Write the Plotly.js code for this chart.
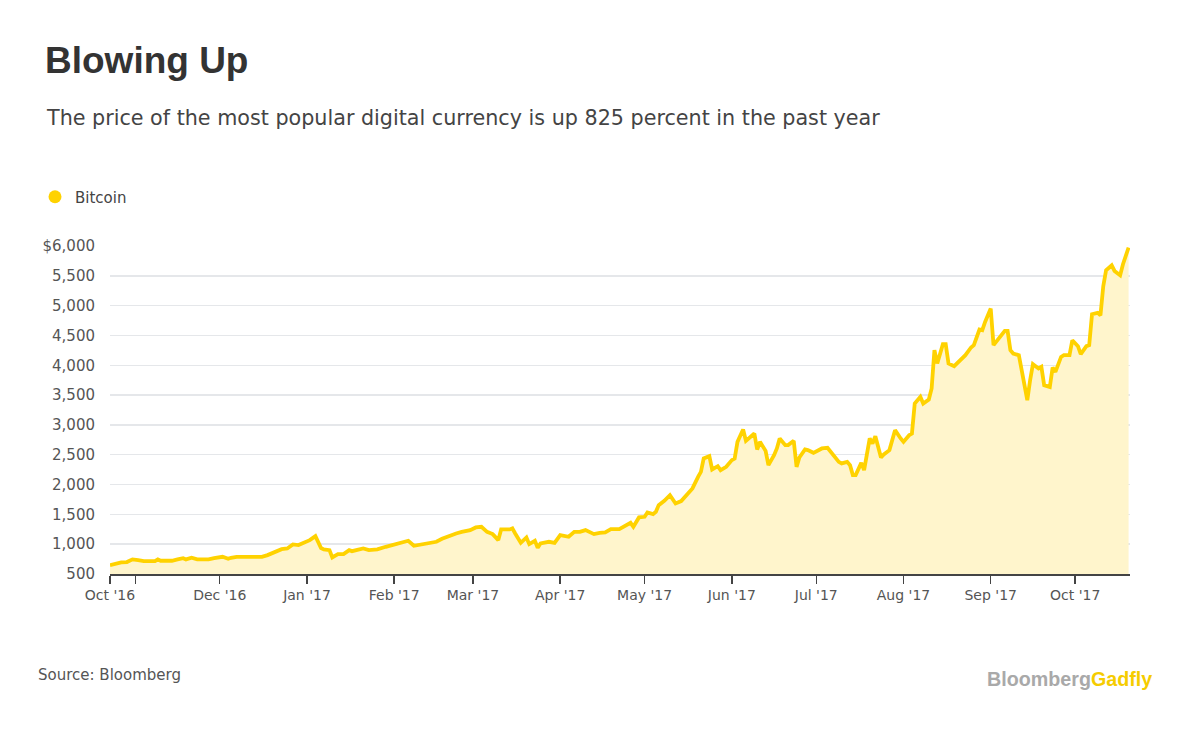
<!DOCTYPE html>
<html>
<head>
<meta charset="utf-8">
<script src="https://cdn.plot.ly/plotly-3.0.1.min.js"></script>
<style>
  html, body { margin: 0; padding: 0; background: #fff; }
  #chart { width: 1199px; height: 734px; }
</style>
</head>
<body>
<div id="chart"></div>
<script>
// ---- Data ----
const dates = [
  '2016-10-23','2016-10-25','2016-10-27','2016-10-29','2016-10-31','2016-11-02','2016-11-04','2016-11-08',
  '2016-11-09','2016-11-10','2016-11-14','2016-11-16','2016-11-18','2016-11-19','2016-11-21','2016-11-23',
  '2016-11-27','2016-11-29','2016-12-02','2016-12-04','2016-12-05','2016-12-07','2016-12-16','2016-12-18',
  '2016-12-21','2016-12-23','2016-12-25','2016-12-27','2016-12-29','2017-01-01','2017-01-02','2017-01-04',
  '2017-01-06','2017-01-07','2017-01-09','2017-01-10','2017-01-12','2017-01-14','2017-01-16','2017-01-17',
  '2017-01-21','2017-01-23','2017-01-26','2017-01-29','2017-02-02','2017-02-03','2017-02-06','2017-02-08',
  '2017-02-11','2017-02-13','2017-02-16','2017-02-18','2017-02-21','2017-02-23','2017-02-25','2017-02-28',
  '2017-03-02','2017-03-04','2017-03-06','2017-03-08','2017-03-10','2017-03-11','2017-03-14','2017-03-15',
  '2017-03-16','2017-03-18','2017-03-20','2017-03-21','2017-03-23','2017-03-24','2017-03-25','2017-03-28',
  '2017-03-30','2017-04-01','2017-04-04','2017-04-06','2017-04-08','2017-04-10','2017-04-13','2017-04-15',
  '2017-04-17','2017-04-19','2017-04-22','2017-04-24','2017-04-26','2017-04-27','2017-04-29','2017-05-01',
  '2017-05-02','2017-05-04','2017-05-05','2017-05-06','2017-05-08','2017-05-10','2017-05-12','2017-05-14',
  '2017-05-16','2017-05-18','2017-05-20','2017-05-21','2017-05-22','2017-05-24','2017-05-25','2017-05-27',
  '2017-05-28','2017-05-30','2017-06-01','2017-06-02','2017-06-03','2017-06-05','2017-06-06','2017-06-07',
  '2017-06-09','2017-06-10','2017-06-11','2017-06-13','2017-06-14','2017-06-16','2017-06-17','2017-06-18',
  '2017-06-20','2017-06-21','2017-06-23','2017-06-24','2017-06-25','2017-06-27','2017-06-28','2017-06-30',
  '2017-07-02','2017-07-03','2017-07-05','2017-07-07','2017-07-09','2017-07-10','2017-07-12','2017-07-13',
  '2017-07-14','2017-07-15','2017-07-17','2017-07-18','2017-07-20','2017-07-21','2017-07-22','2017-07-24',
  '2017-07-25','2017-07-27','2017-07-28','2017-07-29','2017-07-31','2017-08-01','2017-08-03','2017-08-04',
  '2017-08-05','2017-08-07','2017-08-08','2017-08-10','2017-08-11','2017-08-12','2017-08-13','2017-08-15',
  '2017-08-16','2017-08-17','2017-08-19','2017-08-21','2017-08-23','2017-08-25','2017-08-26','2017-08-28',
  '2017-08-29','2017-08-30','2017-09-01','2017-09-02','2017-09-04','2017-09-06','2017-09-07','2017-09-08',
  '2017-09-09','2017-09-11','2017-09-12','2017-09-14','2017-09-15','2017-09-16','2017-09-18','2017-09-19',
  '2017-09-20','2017-09-22','2017-09-23','2017-09-24','2017-09-26','2017-09-27','2017-09-29','2017-09-30',
  '2017-10-02','2017-10-03','2017-10-05','2017-10-06','2017-10-07','2017-10-09','2017-10-10','2017-10-11',
  '2017-10-12','2017-10-14','2017-10-15','2017-10-17','2017-10-18','2017-10-20'
];
const bitcoin = [
  649, 678, 694, 700, 745, 733, 716, 716,
  745, 722, 722, 745, 766, 745, 772, 745,
  745, 766, 788, 755, 772, 788, 788, 817,
  872, 917, 928, 996, 985, 1040, 1068, 1135,
  935, 912, 900, 778, 833, 833, 900, 883,
  929, 900, 912, 956, 1013, 1013, 1057, 973,
  1001, 1013, 1040, 1090, 1152, 1180, 1207, 1236,
  1281, 1291, 1207, 1169, 1068, 1247, 1247, 1264,
  1180, 1023, 1113, 1001, 1057, 939, 1013, 1040,
  1023, 1152, 1124, 1207, 1207, 1236, 1169, 1191,
  1196, 1252, 1252, 1303, 1358, 1291, 1449, 1459,
  1532, 1504, 1543, 1655, 1727, 1822, 1683, 1722,
  1822, 1935, 2129, 2213, 2437, 2476, 2253, 2308,
  2241, 2297, 2409, 2437, 2716, 2923, 2733, 2773,
  2856, 2588, 2716, 2565, 2325, 2493, 2605, 2773,
  2661, 2661, 2733, 2297, 2454, 2588, 2577, 2532,
  2577, 2605, 2616, 2493, 2381, 2354, 2381, 2325,
  2158, 2158, 2364, 2241, 2773, 2689, 2811, 2454,
  2504, 2577, 2744, 2912, 2773, 2716, 2828, 2856,
  3359, 3470, 3359, 3426, 3611, 4253, 4030, 4353,
  4353, 4030, 3985, 4074, 4169, 4298, 4337, 4600,
  4588, 4727, 4951, 4337, 4449, 4577, 4577, 4253,
  4197, 4169, 3917, 3415, 3750, 4018, 3946, 3973,
  3666, 3637, 3963, 3889, 4140, 4169, 4169, 4420,
  4320, 4186, 4320, 4337, 4856, 4878, 4839, 5326,
  5593, 5677, 5582, 5510, 5694, 5974
];
const seriesName = 'Bitcoin';

const xTickVals = ['2016-10-23','2016-11-01','2016-12-01','2017-01-01','2017-02-01','2017-03-01','2017-04-01',
                   '2017-05-01','2017-06-01','2017-07-01','2017-08-01','2017-09-01','2017-10-01'];
const xTickText = ["Oct '16", "", "Dec '16", "Jan '17", "Feb '17", "Mar '17", "Apr '17",
                   "May '17", "Jun '17", "Jul '17", "Aug '17", "Sep '17", "Oct '17"];
const yTickVals = [500, 1000, 1500, 2000, 2500, 3000, 3500, 4000, 4500, 5000, 5500, 6000];
const yTickText = ['500','1,000','1,500','2,000','2,500','3,000','3,500','4,000','4,500','5,000','5,500','$6,000'];

const titleText = 'Blowing Up';
const subtitleText = 'The price of the most popular digital currency is up 825 percent in the past year';
const sourceText = 'Source: Bloomberg';

// ---- Styling ----
const YELLOW = '#FFD200';
const FILL = '#FFF5CC';
const TITLE_FONT = 'Liberation Sans, Arial, sans-serif';
const FONT = 'DejaVu Sans, Verdana, sans-serif';

const traces = [
  {
    type: 'scatter', mode: 'lines',
    x: dates, y: bitcoin,
    line: { color: YELLOW, width: 3.8, shape: 'linear' },
    fill: 'tozeroy', fillcolor: FILL,
    showlegend: false, hoverinfo: 'skip', cliponaxis: true
  },
  {
    type: 'scatter', mode: 'markers',
    x: [null], y: [null], name: seriesName,
    marker: { color: YELLOW, size: 13 },
    showlegend: true, hoverinfo: 'skip'
  }
];

const W = 1199, H = 734;
const L = 110, R = 69, T = 246, B = 160;
const pw = W - L - R, ph = H - T - B;
const px2x = p => (p - L) / pw;
const py2y = p => (H - B - p) / ph;

const layout = {
  width: W, height: H,
  margin: { l: L, r: R, t: T, b: B, pad: 0 },
  paper_bgcolor: '#ffffff', plot_bgcolor: '#ffffff',
  font: { family: FONT, color: '#555' },
  title: {
    text: '<b>' + titleText + '</b>',
    font: { family: TITLE_FONT, size: 37, color: '#333' },
    x: 45 / W, xref: 'container', xanchor: 'left',
    y: 1 - 60 / H, yref: 'container', yanchor: 'middle'
  },
  xaxis: {
    type: 'date',
    range: ['2016-10-23', '2017-10-20 12:00'],
    tickmode: 'array', tickvals: xTickVals, ticktext: xTickText,
    ticks: 'outside', ticklen: 8, tickwidth: 1.5, tickcolor: '#444',
    showline: true, linecolor: '#444', linewidth: 1.5,
    showgrid: false, zeroline: false,
    tickfont: { family: FONT, size: 14, color: '#555' },
    fixedrange: true
  },
  yaxis: {
    range: [500, 6000],
    tickmode: 'array', tickvals: yTickVals, ticktext: yTickText,
    ticks: '', showline: false, zeroline: false,
    showgrid: true, gridcolor: '#e5e7ea', gridwidth: 1.5,
    tickfont: { family: FONT, size: 15, color: '#555' },
    ticklabelstandoff: 14,
    fixedrange: true
  },
  showlegend: true,
  legend: {
    orientation: 'h',
    x: px2x(35), xanchor: 'left',
    y: py2y(197), yanchor: 'middle',
    font: { family: FONT, size: 15, color: '#444' },
    bgcolor: 'rgba(0,0,0,0)', itemclick: false, itemdoubleclick: false
  },
  annotations: [
    {
      text: subtitleText, showarrow: false,
      xref: 'paper', yref: 'paper',
      x: px2x(44), xanchor: 'left', y: py2y(118), yanchor: 'middle',
      font: { family: FONT, size: 20.7, color: '#444' }
    },
    {
      text: sourceText, showarrow: false,
      xref: 'paper', yref: 'paper',
      x: px2x(36), xanchor: 'left', y: py2y(675), yanchor: 'middle',
      font: { family: FONT, size: 15, color: '#555' }
    },
    {
      text: '<b><span style="color:#a9a9a9">Bloomberg</span><span style="color:#F5CC00">Gadfly</span></b>',
      showarrow: false,
      xref: 'paper', yref: 'paper',
      x: px2x(1154), xanchor: 'right', y: py2y(679), yanchor: 'middle',
      font: { family: TITLE_FONT, size: 19.7, color: '#a9a9a9' }
    }
  ],
  hovermode: false
};

Plotly.newPlot('chart', traces, layout, { staticPlot: true, displayModeBar: false });
</script>
</body>
</html>
